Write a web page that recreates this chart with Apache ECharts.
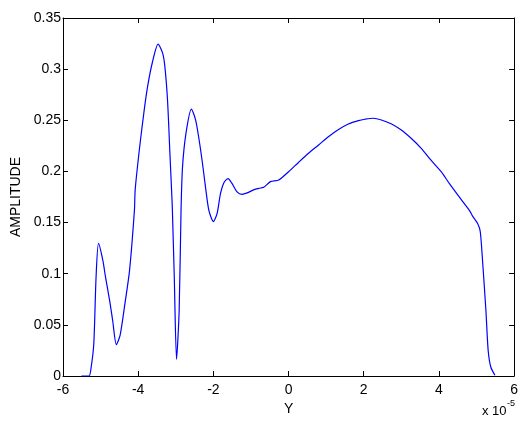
<!DOCTYPE html>
<html>
<head>
<meta charset="utf-8">
<script src="https://cdn.jsdelivr.net/npm/echarts@6/dist/echarts.min.js"></script>
<style>
	html, body { margin: 0; padding: 0; background: #fff; }
	#chart_box { width: 521px; height: 421px; }
</style>
</head>
<body>
<div id="chart_box"></div>
<script>
/*横轴 Y (单位 1e-5)*/
var posY = [-5.51, -5.31, -5.25, -5.18, -5.12, -5.055, -4.94, -4.87, -4.76, -4.68, -4.58, -4.48, -4.34, -4.23, -4.10,
	-4.08, -3.97, -3.84, -3.75, -3.62, -3.47, -3.35, -3.29, -3.22, -3.16, -3.10, -3.09, -3.04, -2.98, -2.91, -2.86,
	-2.82, -2.73, -2.585, -2.47, -2.38, -2.29, -2.20, -2.12, -2.00, -1.90, -1.81, -1.72, -1.61, -1.50, -1.37, -1.24,
	-1.10, -0.93, -0.79, -0.66, -0.48, -0.26, 0.0, 0.27, 0.53, 0.80, 1.06, 1.33, 1.59, 1.86, 2.03, 2.25, 2.47, 2.74,
	3.00, 3.26, 3.53, 3.79, 4.06, 4.28, 4.50, 4.81, 4.90, 5.03, 5.10, 5.16, 5.25, 5.31, 5.38, 5.49];
/*幅值*/
var amplitude = [0, 0, 0.0088, 0.032, 0.097, 0.1296, 0.113, 0.097, 0.074, 0.0545, 0.0307, 0.040, 0.074, 0.103, 0.162,
	0.182, 0.221, 0.260, 0.283, 0.307, 0.3245, 0.3157, 0.3025, 0.270, 0.221, 0.172, 0.162, 0.097, 0.0163, 0.064, 0.162,
	0.2046, 0.237, 0.261, 0.250, 0.231, 0.208, 0.182, 0.162, 0.151, 0.159, 0.1786, 0.189, 0.193, 0.188, 0.180, 0.1776,
	0.179, 0.182, 0.1835, 0.1845, 0.190, 0.1916, 0.1997, 0.209, 0.2177, 0.2259, 0.234, 0.241, 0.2464, 0.2497, 0.251, 0.252, 0.2503, 0.2464,
	0.2405, 0.2324, 0.2226, 0.211, 0.1997, 0.188, 0.177, 0.162, 0.156, 0.149, 0.141, 0.113, 0.064, 0.025, 0.0088, 0.0007];
/*刻度*/
var xTicks = [-6, -4, -2, 0, 2, 4, 6];
var yTicks = [0, 0.05, 0.1, 0.15, 0.2, 0.25, 0.3, 0.35];

var lineData = [];
for(var i = 0; i < posY.length; i++) {
	lineData.push([posY[i], amplitude[i]]);
}

var myChart = echarts.init(document.getElementById('chart_box'), null, { renderer: 'canvas' });
var fontName = 'Liberation Sans';
var axisCommon = {
	axisLine: { onZero: false, lineStyle: { color: '#000', width: 1 } },
	axisTick: { inside: true, length: 5, lineStyle: { color: '#000' } },
	splitLine: { show: false }
};
var option = {
	animation: false,
	backgroundColor: '#fff',
	grid: { left: 63, right: 4, top: 18, bottom: 45 },
	xAxis: [
		echarts.util.merge({
			type: 'value',
			min: xTicks[0],
			max: xTicks[xTicks.length - 1],
			interval: 2,
			position: 'bottom',
			name: 'Y',
			nameLocation: 'middle',
			nameGap: 20,
			nameTextStyle: { color: '#000', fontSize: 14, fontFamily: fontName },
			axisLabel: { color: '#000', fontSize: 14, fontFamily: fontName, margin: 7 }
		}, axisCommon, true),
		echarts.util.merge({
			type: 'value',
			min: xTicks[0],
			max: xTicks[xTicks.length - 1],
			interval: 2,
			position: 'top',
			axisLabel: { show: false }
		}, axisCommon, true)
	],
	yAxis: [
		echarts.util.merge({
			type: 'value',
			min: yTicks[0],
			max: yTicks[yTicks.length - 1],
			interval: 0.05,
			position: 'left',
			name: 'AMPLITUDE',
			nameLocation: 'middle',
			nameGap: 34,
			nameTextStyle: { color: '#000', fontSize: 14, fontFamily: fontName },
			axisLabel: { color: '#000', fontSize: 14, fontFamily: fontName, margin: 2 }
		}, axisCommon, true),
		echarts.util.merge({
			type: 'value',
			min: yTicks[0],
			max: yTicks[yTicks.length - 1],
			interval: 0.05,
			position: 'right',
			axisLabel: { show: false }
		}, axisCommon, true)
	],
	graphic: [{
		type: 'text',
		left: 482,
		top: 405,
		style: { text: 'x 10', fontSize: 13, fontFamily: fontName, fill: '#000' }
	}, {
		type: 'text',
		left: 507,
		top: 399,
		style: { text: '-5', fontSize: 9, fontFamily: fontName, fill: '#000' }
	}],
	series: [{
		type: 'line',
		data: lineData,
		showSymbol: false,
		smooth: 0.25,
		lineStyle: { color: '#0000ff', width: 1.2 },
		itemStyle: { color: '#0000ff' }
	}]
};
myChart.setOption(option);
</script>
</body>
</html>
